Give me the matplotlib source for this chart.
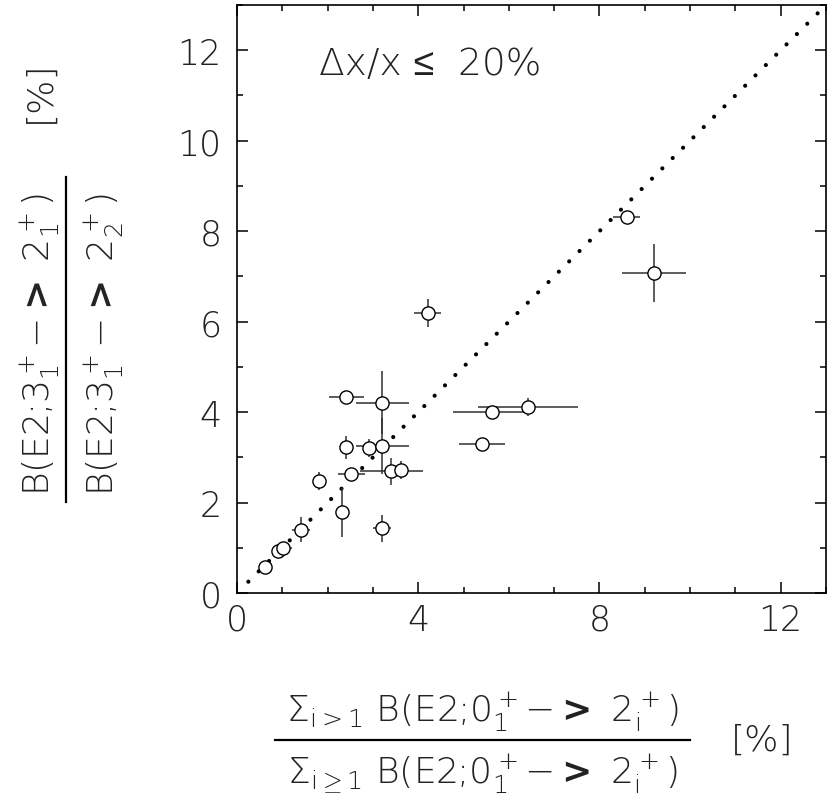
import matplotlib
matplotlib.use("Agg")
import matplotlib.pyplot as plt
from matplotlib.ticker import MultipleLocator

plt.rcParams['font.family'] = ['DejaVu Sans', 'Liberation Sans']
plt.rcParams['font.weight'] = 'light'
plt.rcParams['mathtext.fontset'] = 'custom'
plt.rcParams['mathtext.rm'] = 'DejaVu Sans:light'
plt.rcParams['mathtext.it'] = 'DejaVu Sans:light'
plt.rcParams['mathtext.bf'] = 'DejaVu Sans:bold'
plt.rcParams['mathtext.sf'] = 'DejaVu Sans:light'

# data
x_vals = [0.62, 0.91, 1.02, 1.41, 1.81, 2.32, 2.41, 2.41, 2.52, 2.91, 3.21,
          3.21, 3.21, 3.41, 3.61, 5.41, 5.62, 6.42, 4.21, 8.60, 9.20]
y_vals = [0.58, 0.93, 0.99, 1.40, 2.47, 1.78, 3.22, 4.34, 2.63, 3.20, 3.25,
          4.21, 1.43, 2.69, 2.72, 3.29, 4.01, 4.12, 6.19, 8.32, 7.07]
x_err = [0.08, 0.05, 0.20, 0.20, 0.0, 0.0, 0.0, 0.39, 0.30, 0.13, 0.59,
         0.59, 0.20, 0.69, 0.15, 0.50, 0.85, 1.10, 0.30, 0.30, 0.70]
y_err = [0.05, 0.05, 0.05, 0.28, 0.20, 0.55, 0.26, 0.12, 0.12, 0.20, 0.62,
         0.70, 0.30, 0.30, 0.20, 0.0, 0.0, 0.20, 0.30, 0.0, 0.64]
diag = [0.25, 12.95]
x_ticks = [0, 4, 8, 12]
y_ticks = [0, 2, 4, 6, 8, 10, 12]
annotation = "\u0394x/x \u2264  20%"

txt_color = '#222222'

fig = plt.figure(figsize=(8.27, 8.04), dpi=100)
ax = fig.add_axes([237/827, (804-594)/804, 589/827, 588/804])

ax.plot(diag, diag, color='black', linewidth=3.0,
        linestyle=(0, (0.01, 3.5)), dash_capstyle='round', zorder=2)

ax.errorbar(x_vals, y_vals, xerr=x_err, yerr=y_err, fmt='o',
            markersize=9.5, markerfacecolor='white', markeredgecolor='black',
            markeredgewidth=1.0, ecolor='#303030', elinewidth=1.1,
            capsize=0, zorder=3)

ax.set_xlim(0, 13)
ax.set_ylim(0, 13)
ax.set_xticks(x_ticks)
ax.set_yticks(y_ticks)
ax.xaxis.set_minor_locator(MultipleLocator(1))
ax.yaxis.set_minor_locator(MultipleLocator(1))
ax.tick_params(which='both', direction='in', top=True, right=True,
               width=1.1, colors='black')
ax.tick_params(which='major', length=8, labelsize=25)
ax.tick_params(which='minor', length=4)
ax.tick_params(axis='x', which='major', pad=7)
ax.tick_params(axis='y', which='major', pad=11)
for lab in ax.get_xticklabels() + ax.get_yticklabels():
    lab.set_color(txt_color)
    lab.set_fontweight('light')
for s in ax.spines.values():
    s.set_linewidth(1.2)

ax.text(1.8, 11.7, annotation, fontsize=27, ha='left', va='center',
        color=txt_color, fontweight='light',
        family=['DejaVu Sans', 'Liberation Sans'])

# x-axis label: fraction
fs = 26
fig.text(482/827, 1 - 712/804,
         r"$\Sigma_{\mathrm{i>1}}$ B(E2;0$_1^+$$-\mathbf{>}$ 2$_\mathrm{i}^+$)",
         fontsize=fs, ha='center', va='center', color=txt_color)
fig.text(482/827, 1 - 774/804,
         r"$\Sigma_{\mathrm{i\geq1}}$ B(E2;0$_1^+$$-\mathbf{>}$ 2$_\mathrm{i}^+$)",
         fontsize=fs, ha='center', va='center', color=txt_color)
fig.add_artist(plt.Line2D([275/827, 690/827], [1 - 741/804, 1 - 741/804],
                          color='black', linewidth=1.6))
fig.text(762/827, 1 - 741/804, "[%]", fontsize=fs, ha='center', va='center',
         color=txt_color)

# y-axis label: fraction (rotated)
fig.text(40/827, 1 - 345/804,
         r"B(E2;3$_1^+$$-\mathbf{>}$ 2$_1^+$)",
         fontsize=fs, ha='center', va='center', rotation=90, color=txt_color)
fig.text(104/827, 1 - 345/804,
         r"B(E2;3$_1^+$$-\mathbf{>}$ 2$_2^+$)",
         fontsize=fs, ha='center', va='center', rotation=90, color=txt_color)
fig.add_artist(plt.Line2D([66/827, 66/827], [1 - 503/804, 1 - 178/804],
                          color='black', linewidth=1.6))
fig.text(40/827, 1 - 92/804, "[%]", fontsize=fs, ha='center', va='center',
         rotation=90, color=txt_color)

fig.savefig("out.png", dpi=100)
